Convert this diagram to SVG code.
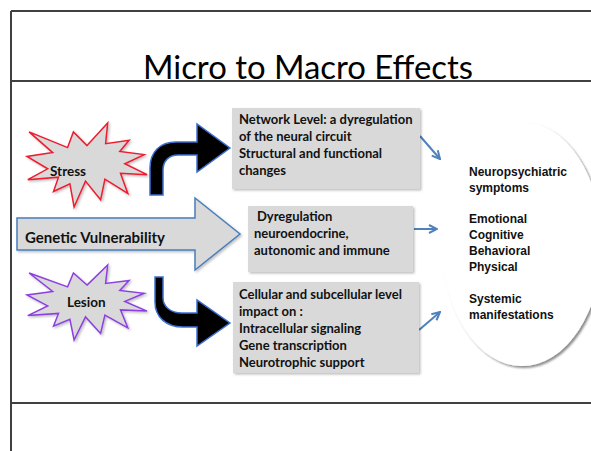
<svg xmlns="http://www.w3.org/2000/svg" width="591" height="451" viewBox="0 0 591 451">
<style>
.frame{stroke:#404040;stroke-width:2;fill:none}
.title{font-family:Lato,"Open Sans",sans-serif;font-size:32px;fill:#000}
.box{fill:#d9d9d9;filter:url(#sh)}
.bt{font-family:Lato,"Liberation Sans",sans-serif;font-weight:bold;font-size:13px;fill:#111}
.et{font-family:"Liberation Sans",Arial,sans-serif;font-weight:bold;font-size:12px;fill:#111}
.conn{stroke:#4f81bd;stroke-width:2;fill:none;marker-end:url(#ah)}
.curved{fill:#000;stroke:#3d6fd1;stroke-width:1.5;stroke-linejoin:miter}
</style>
<defs>
<filter id="sh" x="-10%" y="-10%" width="125%" height="125%">
<feDropShadow dx="1.5" dy="1.5" stdDeviation="1" flood-color="#000" flood-opacity="0.25"/>
</filter>
<filter id="esh" x="-10%" y="-10%" width="130%" height="130%">
<feDropShadow dx="2" dy="2" stdDeviation="1.2" flood-color="#000" flood-opacity="0.45"/>
</filter>
<marker id="ah" viewBox="0 0 10 10" refX="9" refY="5" markerWidth="10" markerHeight="10" markerUnits="userSpaceOnUse" orient="auto">
<path d="M1,1 L9,5 L1,9" fill="none" stroke="#4f81bd" stroke-width="2"/>
</marker>
</defs>

<g id="frame">
<line class="frame" x1="11" y1="11" x2="591" y2="11"/>
<line class="frame" x1="11" y1="11" x2="11" y2="451"/>
<line class="frame" x1="11" y1="81" x2="591" y2="81"/>
<line class="frame" x1="11" y1="403" x2="591" y2="403"/>
</g>

<text class="title" x="143" y="79" textLength="330" lengthAdjust="spacingAndGlyphs">Micro to Macro Effects</text>

<g id="connectors">
<path class="curved" d="M150,195 L150,168 C150,152 160,142 176,142 L197,142 L197,124 L230,148 L197,172 L197,155 L178,155 C169,155 163,161 163,170 L163,195 Z"/>
<path class="curved" d="M155,277 L155,302 C155,317 166,327 183,327 L197,327 L197,346 L230,323 L197,300 L197,313 L182,313 C170,313 163,306 163,298 L163,277 Z"/>
<line class="conn" x1="420" y1="136" x2="440" y2="159"/>
<line class="conn" x1="414" y1="229" x2="437" y2="229"/>
<line class="conn" x1="419" y1="330" x2="440" y2="312"/>
</g>

<g id="stress">
<polygon points="87,145.6 107.7,123 105.6,143.7 129.1,140.3 119.8,151.4 144.2,154.6 124.8,163.7 147,174.7 120.5,173.3 127.8,193.4 104.9,179.2 100.6,199.8 85.5,181.1 74.1,207 69.9,183.8 53.5,191.5 58.5,177.2 27.8,179.7 47.7,168.8 27,156.5 52.7,152.6 29.1,131.9 67.6,147.6 73.4,131.9" fill="#d9d9d9" stroke="#ee1c2e" stroke-width="1.5" filter="url(#sh)"/>
<text class="bt" x="50" y="176" style="font-size:13.5px">Stress</text>
</g>

<g id="lesion">
<polygon points="87,285.1 107.7,265 105.6,283.5 129.1,280.5 119.8,290.4 144.2,293.3 124.8,301.4 147,311.1 120.5,309.9 127.8,327.8 104.9,315.2 100.6,333.5 85.5,316.9 74.1,340 69.9,319.3 53.5,326.2 58.5,313.4 27.8,315.6 47.7,305.9 27,294.9 52.7,291.4 29.1,273 67.6,286.9 73.4,273" fill="#d9d9d9" stroke="#8c3fe0" stroke-width="1.5" filter="url(#sh)"/>
<text class="bt" x="67" y="307" style="font-size:13.5px">Lesion</text>
</g>

<g id="genetic">
<path d="M17,218 H195 V198 L240,234 L195,270 V250 H17 Z" fill="#d9d9d9" stroke="#4a7ebb" stroke-width="1.5" filter="url(#sh)"/>
<text class="bt" x="25" y="243" style="font-size:15px">Genetic Vulnerability</text>
</g>

<g id="network">
<rect class="box" x="232" y="108" width="188" height="81"/>
<text class="bt" x="239" y="124">Network Level: a dyregulation</text>
<text class="bt" x="239" y="141">of the neural circuit</text>
<text class="bt" x="239" y="158">Structural and functional</text>
<text class="bt" x="239" y="175">changes</text>
</g>

<g id="dysregulation">
<rect class="box" x="248" y="206" width="165" height="66"/>
<text class="bt" x="257" y="221">Dyregulation</text>
<text class="bt" x="254" y="238">neuroendocrine,</text>
<text class="bt" x="254" y="255">autonomic and immune</text>
</g>

<g id="cellular">
<rect class="box" x="233" y="282" width="186" height="91"/>
<text class="bt" x="239" y="299">Cellular and subcellular level</text>
<text class="bt" x="239" y="316">impact on :</text>
<text class="bt" x="239" y="333">Intracellular signaling</text>
<text class="bt" x="239" y="350">Gene transcription</text>
<text class="bt" x="239" y="367">Neurotrophic support</text>
</g>

<g id="effects">
<ellipse cx="522" cy="244" rx="80" ry="122" fill="#fff" filter="url(#esh)"/>
<text class="et" x="469" y="176">Neuropsychiatric</text>
<text class="et" x="469" y="192">symptoms</text>
<text class="et" x="469" y="223">Emotional</text>
<text class="et" x="469" y="239">Cognitive</text>
<text class="et" x="469" y="255">Behavioral</text>
<text class="et" x="469" y="271">Physical</text>
<text class="et" x="469" y="303">Systemic</text>
<text class="et" x="469" y="319">manifestations</text>
</g>
</svg>
